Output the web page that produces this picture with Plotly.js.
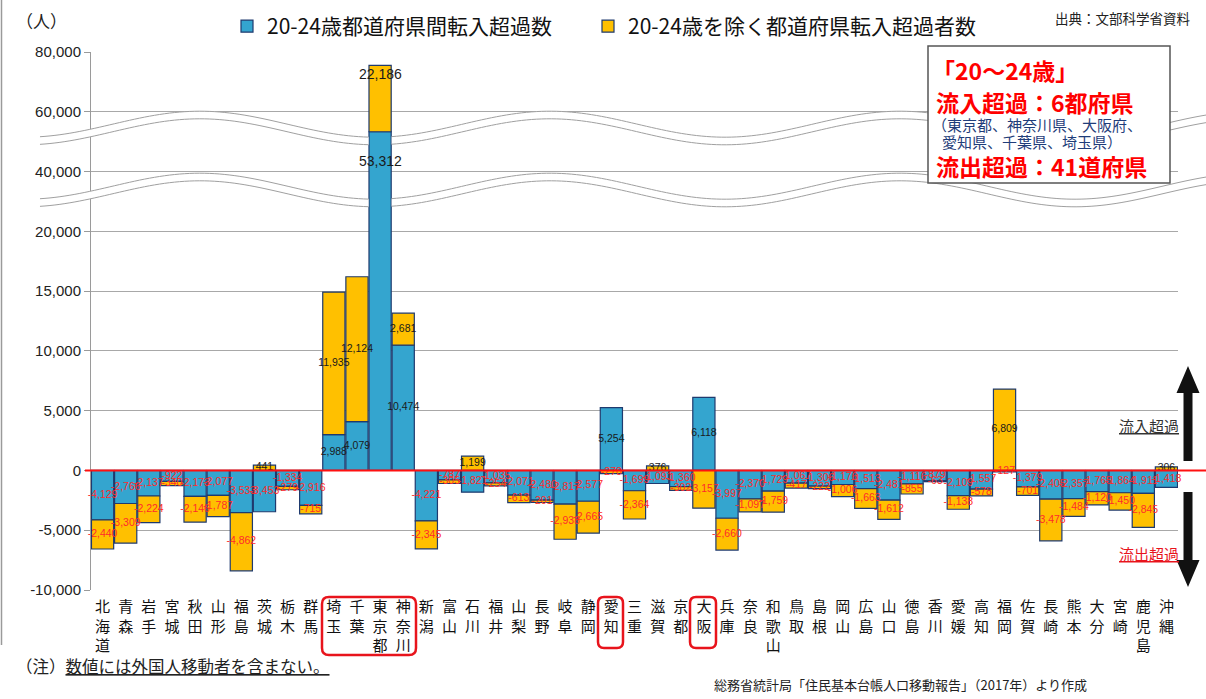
<!DOCTYPE html>
<html><head><meta charset="utf-8">
<script src="https://cdn.plot.ly/plotly-3.0.1.min.js"></script>
<style>html,body{margin:0;padding:0;background:#fff;} #chart{width:1206px;height:699px;}</style>
</head><body><div id="chart"></div>
<script>
// ---- data ----
const prefectures = ['北海道','青森','岩手','宮城','秋田','山形','福島','茨城','栃木','群馬','埼玉','千葉','東京都','神奈川','新潟','富山','石川','福井','山梨','長野','岐阜','静岡','愛知','三重','滋賀','京都','大阪','兵庫','奈良','和歌山','鳥取','島根','岡山','広島','山口','徳島','香川','愛媛','高知','福岡','佐賀','長崎','熊本','大分','宮崎','鹿児島','沖縄'];
const net2024 = [-4129,-2766,-2137,-922,-2173,-2077,-3533,-3453,-1334,-2916,2988,4079,53312,10474,-4221,-787,-1821,-1035,-2071,-2480,-2817,-2577,5254,-1699,-1091,-1360,6118,-3997,-2370,-1729,-1067,-1306,-1176,-1513,-2481,-1116,-879,-2109,-1557,-127,-1379,-2405,-2357,-1765,-1864,-1911,-1418];
const netOther = [-2440,-3309,-2224,-340,-2146,-1787,-4862,441,-279,-715,11935,12124,22186,2681,-2345,-305,1199,-254,-613,-201,-2938,-2665,-270,-2364,376,-302,-3157,-2660,-1097,-1759,-417,-222,-1006,-1663,-1612,-855,-63,-1138,-578,6809,-701,-3478,-1484,-1120,-1450,-2845,306];
const yTickValues = [-10000,-5000,0,5000,10000,15000,20000,40000,60000,80000];
const seriesNames = ['20-24歳都道府県間転入超過数','20-24歳を除く都道府県転入超過者数'];
const brokenIndex = prefectures.indexOf('東京都');

// ---- broken-axis transform (above 20,000 the scale is compressed 4x) ----
const BREAK = 20000, FACTOR = 4;
function T(v){ return v <= BREAK ? v : BREAK + (v - BREAK) / FACTOR; }
const fmt = v => v.toLocaleString('en-US');

const blueH = net2024.map(T);
const yellowH = netOther.map((y,i)=>{
  const b = net2024[i];
  return (Math.sign(y) === Math.sign(b)) ? T(b+y) - T(b) : T(y);
});
const blueMid = blueH.map(h => h/2);
const yellowMid = yellowH.map((h,i)=>{
  const base = (Math.sign(netOther[i]) === Math.sign(net2024[i])) ? blueH[i] : 0;
  return base + h/2;
});
const labelColor = v => v < 0 ? '#ff2b2b' : '#1a1a1a';

// pixel -> paper helpers
const L=91, R=1178, TOP=52, BOT=590;
const px = x => (x - L)/(R - L);
const py = y => (BOT - y)/(BOT - TOP);

const CJK = '"Noto Sans CJK JP","Noto Sans",sans-serif';
const NUM = '"Liberation Sans",Arial,sans-serif';

function barTrace(name, h, color, leg){
  return {type:'bar', name:name, x:prefectures, y:h, legend:leg,
    marker:{color:color, line:{color:'#1f3a6e', width:1.2}}, hoverinfo:'skip'};
}
function labelTrace(mid, vals){
  return {type:'scatter', mode:'text', x:prefectures, y:mid, showlegend:false, cliponaxis:false,
    text: vals.map((v,i)=> i===brokenIndex ? '' : fmt(v)), textposition:'middle center',
    textfont:{family:NUM, size:10.5, color: vals.map(labelColor)}, hoverinfo:'skip'};
}
const traces = [
  barTrace(seriesNames[0], blueH, '#34a5cf', 'legend'),
  barTrace(seriesNames[1], yellowH, '#ffc000', 'legend2'),
  labelTrace(blueMid, net2024),
  labelTrace(yellowMid, netOther)
];

// ---- shapes ----
function pathFromPts(pts, close){
  return pts.map((p,i)=>(i?'L':'M')+px(p[0]).toFixed(5)+','+py(p[1]).toFixed(5)).join(' ') + (close?' Z':'');
}
function rrect(x0,y0,x1,y1,r){
  const P=(x,y)=>px(x).toFixed(5)+','+py(y).toFixed(5);
  return 'M'+P(x0+r,y0)+' L'+P(x1-r,y0)+' Q'+P(x1,y0)+' '+P(x1,y0+r)+' L'+P(x1,y1-r)+' Q'+P(x1,y1)+' '+P(x1-r,y1)+
         ' L'+P(x0+r,y1)+' Q'+P(x0,y1)+' '+P(x0,y1-r)+' L'+P(x0,y0+r)+' Q'+P(x0,y0)+' '+P(x0+r,y0)+' Z';
}
const shapes = [];
// wavy break bands (decoration)
const tokyoC = L + (brokenIndex+0.5)*(R-L)/prefectures.length;
const gapL = tokyoC-11.5, gapR = tokyoC+11.5;
function wave(x, off){ return 128 + off - 13*Math.cos(2*Math.PI*(x-200)/350); }
[0, 62].forEach(off=>{
  [[40,gapL],[gapR,1206]].forEach(seg=>{
    const top=[], bot=[];
    const n = Math.ceil((seg[1]-seg[0])/5);
    for(let k=0;k<=n;k++){
      const x = seg[0] + (seg[1]-seg[0])*k/n;
      top.push([x, wave(x,off)-3.8]); bot.push([x, wave(x,off)+3.8]);
    }
    shapes.push({type:'path', xref:'paper', yref:'paper', layer:'above', line:{width:0}, fillcolor:'#ffffff',
      path: pathFromPts(top.concat(bot.slice().reverse()), true)});
    shapes.push({type:'path', xref:'paper', yref:'paper', layer:'above', line:{color:'#a0a0a0', width:1}, path: pathFromPts(top,false)});
    shapes.push({type:'path', xref:'paper', yref:'paper', layer:'above', line:{color:'#a0a0a0', width:1}, path: pathFromPts(bot,false)});
  });
});
// zero line (red)
shapes.push({type:'line', xref:'paper', yref:'y', x0:px(85), x1:px(1206), y0:0, y1:0, layer:'above', line:{color:'#ff1010', width:2}});
// left border line
shapes.push({type:'line', xref:'paper', yref:'paper', x0:px(1.5), x1:px(1.5), y0:py(0), y1:py(645), line:{color:'#9a9a9a', width:1.5}});
// info box
shapes.push({type:'rect', xref:'paper', yref:'paper', x0:px(928), x1:px(1170), y0:py(46), y1:py(183), layer:'above',
  fillcolor:'#ffffff', line:{color:'#555', width:1.5}});
// red rounded boxes around highlighted prefectures
shapes.push({type:'path', xref:'paper', yref:'paper', layer:'above', line:{color:'#e8141c', width:2.5}, path: rrect(322,597,416,655,7)});
shapes.push({type:'path', xref:'paper', yref:'paper', layer:'above', line:{color:'#e8141c', width:2.5}, path: rrect(598,597,623,648,6)});
shapes.push({type:'path', xref:'paper', yref:'paper', layer:'above', line:{color:'#e8141c', width:2.5}, path: rrect(690,597,716,648,6)});
// big arrows
shapes.push({type:'path', xref:'paper', yref:'paper', layer:'above', fillcolor:'#111', line:{width:0},
  path: pathFromPts([[1188,366],[1199.5,393],[1192.5,393],[1192.5,461],[1183.5,461],[1183.5,393],[1176.5,393]], true)});
shapes.push({type:'path', xref:'paper', yref:'paper', layer:'above', fillcolor:'#111', line:{width:0},
  path: pathFromPts([[1183.5,492],[1192.5,492],[1192.5,560],[1199.5,560],[1188,587],[1176.5,560],[1183.5,560]], true)});

// ---- annotations ----
const A = (text, x, y, opts) => Object.assign({text, x:px(x), y:py(y), xref:'paper', yref:'paper', showarrow:false,
  xanchor:'left', yanchor:'middle', font:{family:CJK, size:14, color:'#222'}}, opts||{});
const annotations = [
  A('（人）', 14, 20, {font:{family:CJK, size:17, color:'#222'}}),
  A('出典：文部科学省資料', 1053, 18, {font:{family:CJK, size:13.5, color:'#222'}}),
  A(fmt(netOther[brokenIndex]), tokyoC, 74, {xanchor:'center', font:{family:NUM, size:14, color:'#1a1a1a'}}),
  A(fmt(net2024[brokenIndex]), tokyoC, 161, {xanchor:'center', font:{family:NUM, size:14, color:'#1a1a1a'}}),
  A('<b>「20～24歳」</b>', 930, 70, {font:{family:CJK, size:23, color:'#ff0000'}}),
  A('<b>流入超過：6都府県</b>', 934, 102, {font:{family:CJK, size:23, color:'#ff0000'}}),
  A('（東京都、神奈川県、大阪府、', 930, 124, {font:{family:CJK, size:15, color:'#1f3d7a'}}),
  A('愛知県、千葉県、埼玉県）', 940, 141, {font:{family:CJK, size:15, color:'#1f3d7a'}}),
  A('<b>流出超過：41道府県</b>', 934, 166, {font:{family:CJK, size:23, color:'#ff0000'}}),
  A('<u>流入超過</u>', 1117, 425, {font:{family:CJK, size:15, color:'#333'}}),
  A('<u>流出超過</u>', 1117, 553, {font:{family:CJK, size:15, color:'#e8141c'}}),
  A('（注）<u>数値には外国人移動者を含まない。</u>', 14, 666, {font:{family:CJK, size:16.5, color:'#222'}}),
  A('総務省統計局「住民基本台帳人口移動報告」（2017年）より作成', 712, 684, {font:{family:CJK, size:13, color:'#222'}})
];

const legendCommon = {orientation:'h', xanchor:'left', yanchor:'top', y:py(6), bgcolor:'rgba(0,0,0,0)', itemwidth:30,
  font:{family:CJK, size:21, color:'#111'}};
const layout = {
  width:1206, height:699,
  margin:{l:L, r:1206-R, t:TOP, b:699-BOT, autoexpand:false},
  paper_bgcolor:'#ffffff', plot_bgcolor:'#ffffff',
  barmode:'relative', bargap:0.04,
  showlegend:true,
  legend:Object.assign({x:px(227)}, legendCommon),
  legend2:Object.assign({x:px(588)}, legendCommon),
  xaxis:{type:'category', range:[-0.5, prefectures.length-0.5], tickvals:prefectures, ticktext:prefectures.map(p=>p.split('').join('<br>')),
    tickfont:{family:CJK, size:15, color:'#111'}, showgrid:false, showline:false, ticks:'', zeroline:false, tickangle:0,
    ticklabelstandoff:6, automargin:false, fixedrange:true},
  yaxis:{range:[T(-10000), T(80000)], tickvals:yTickValues.map(T), ticktext:yTickValues.map(fmt), automargin:false,
    tickfont:{family:NUM, size:15, color:'#222'}, showgrid:true, gridcolor:'#a8a8a8', gridwidth:1,
    zeroline:false, showline:true, linecolor:'#9a9a9a', linewidth:1, ticks:'outside', ticklen:6, tickcolor:'#9a9a9a', fixedrange:true},
  shapes:shapes, annotations:annotations
};
Plotly.newPlot('chart', traces, layout, {staticPlot:true, displayModeBar:false});
</script>
</body></html>
